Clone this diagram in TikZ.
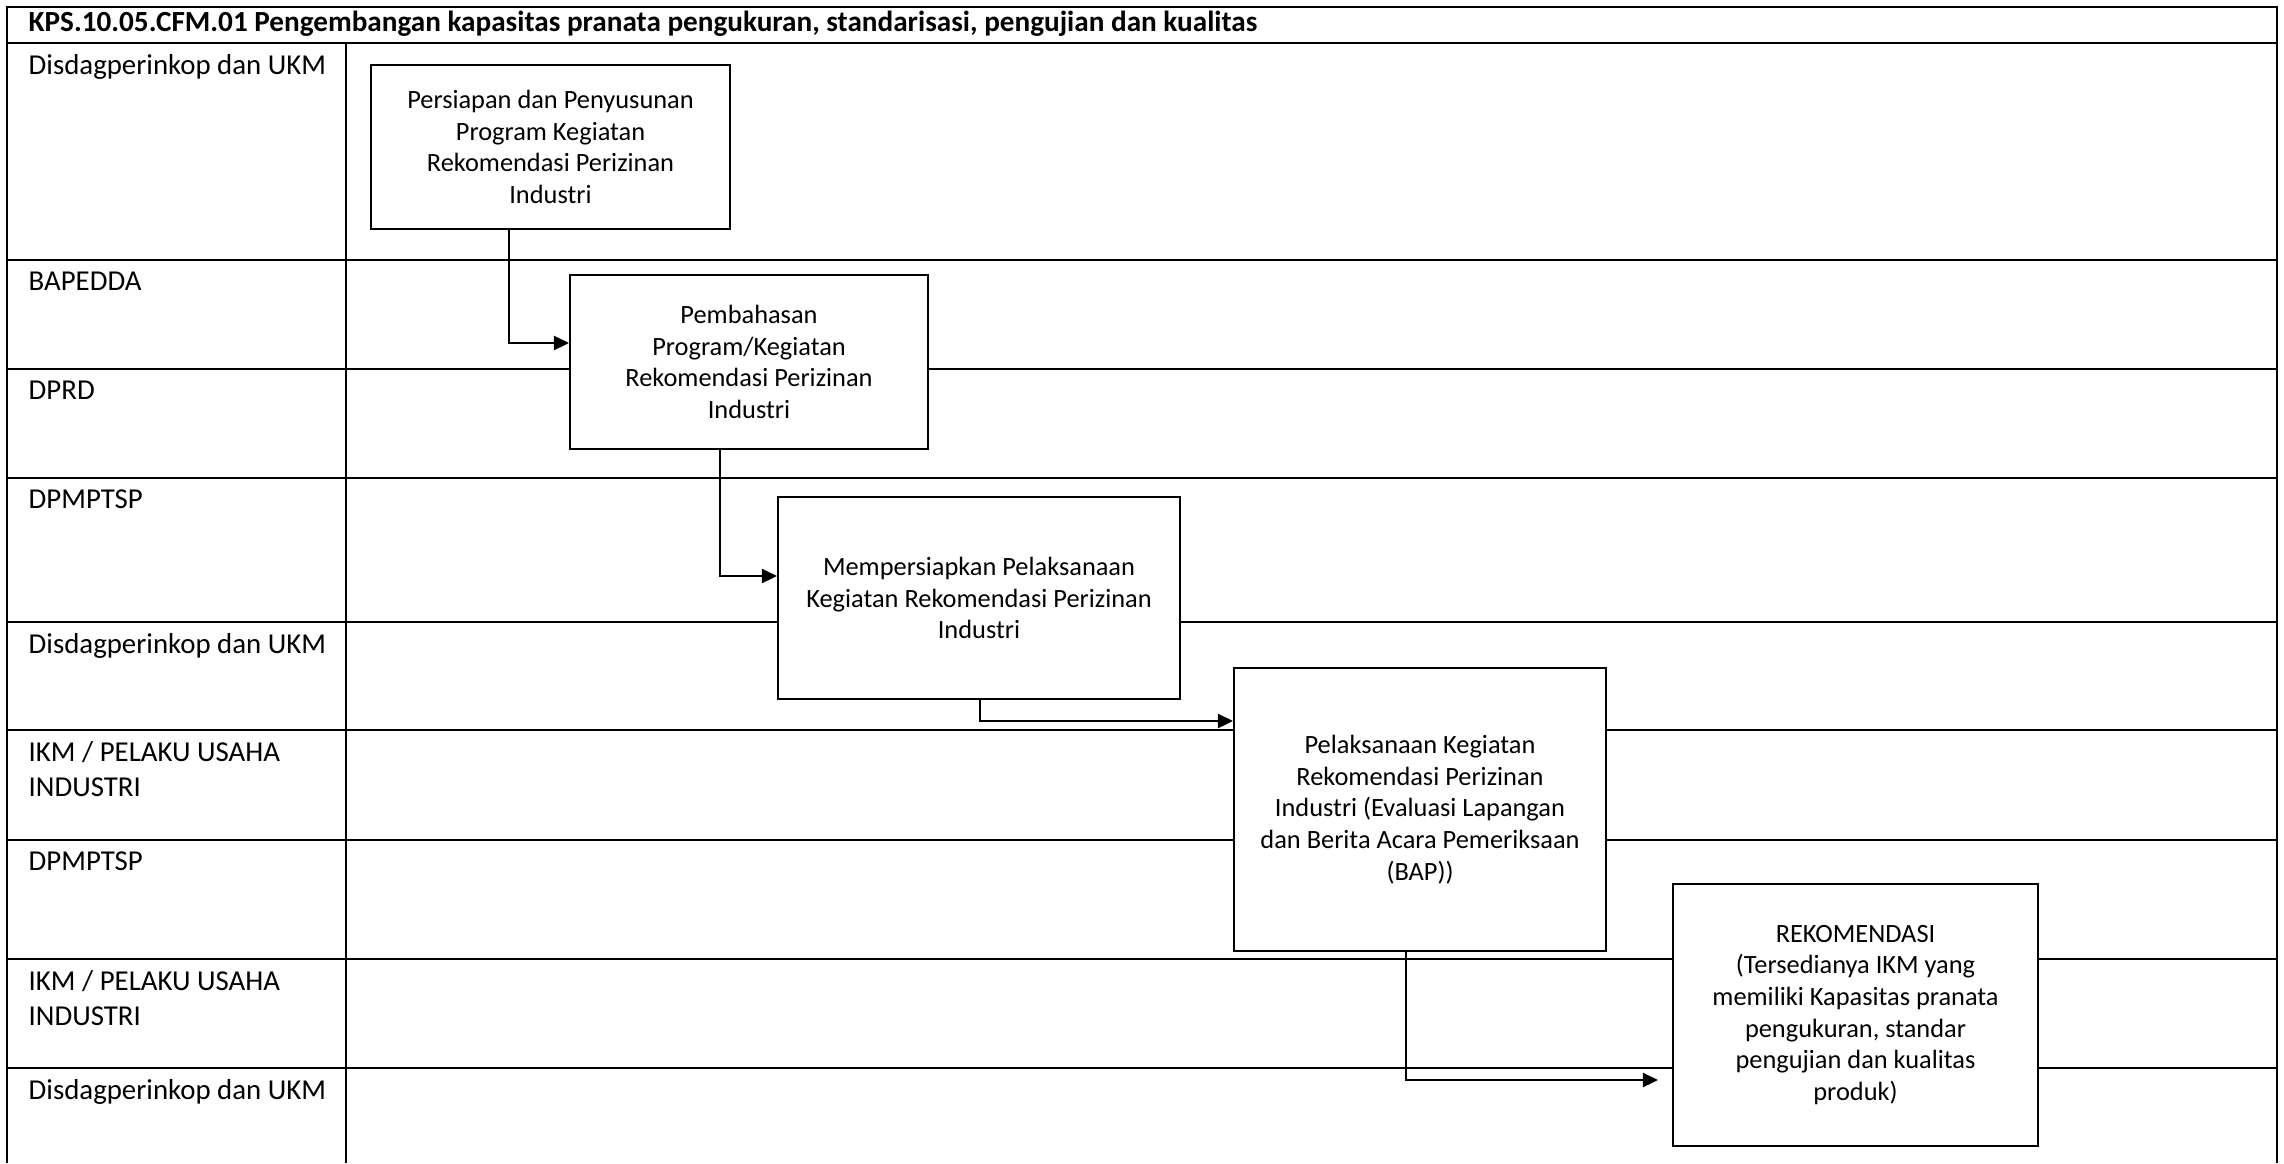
\documentclass[tikz,border=0pt]{standalone}
\usepackage{fontspec}
\setmainfont{Carlito}
\usetikzlibrary{arrows.meta,calc}
\begin{document}
\begin{tikzpicture}[x=0.01cm,y=-0.01cm,
  laneline/.style={line width=0.7pt},
  lanelabel/.style={anchor=north west,inner sep=0pt,align=left,font=\fontsize{8.2}{10}\selectfont},
  titlelabel/.style={anchor=base west,inner sep=0pt,font=\fontsize{8.3}{10}\selectfont\bfseries},
  stepbox/.style={draw,line width=0.5pt,fill=white,align=center,inner sep=2pt,font=\fontsize{7.5}{9}\selectfont},
  conn/.style={line width=0.65pt,-{Triangle[length=4.3pt,width=4pt]}}]
\useasboundingbox (0,0) rectangle (2284,1163);
% frame and lanes
\draw[laneline] (7,1163) -- (7,7) -- (2277,7) -- (2277,1163);
\draw[laneline] (7,43) -- (2277,43);
\draw[laneline] (346,43) -- (346,1163);
\foreach \yy in {260,369,478,622,730,840,959,1068}{
  \draw[laneline] (7,\yy) -- (2277,\yy);
}
% title
\node[titlelabel] (title) at (28,31) {KPS.10.05.CFM.01 Pengembangan kapasitas pranata pengukuran, standarisasi, pengujian dan kualitas};
% lane labels
\node[lanelabel] (l1) at (28,54) {Disdagperinkop dan UKM};
\node[lanelabel] (l2) at (28,271) {BAPEDDA};
\node[lanelabel] (l3) at (28,380) {DPRD};
\node[lanelabel] (l4) at (28,489) {DPMPTSP};
\node[lanelabel] (l5) at (28,633) {Disdagperinkop dan UKM};
\node[lanelabel] (l6) at (28,741) {IKM / PELAKU USAHA\\INDUSTRI};
\node[lanelabel] (l7) at (28,851) {DPMPTSP};
\node[lanelabel] (l8) at (28,970) {IKM / PELAKU USAHA\\INDUSTRI};
\node[lanelabel] (l9) at (28,1079) {Disdagperinkop dan UKM};
% boxes
\node[stepbox,minimum width=3.59cm,minimum height=1.64cm] (b1) at (550.5,147)
  {Persiapan dan Penyusunan\\Program Kegiatan\\Rekomendasi Perizinan\\Industri};
\node[stepbox,minimum width=3.58cm,minimum height=1.74cm] (b2) at (749,362)
  {Pembahasan\\Program/Kegiatan\\Rekomendasi Perizinan\\Industri};
\node[stepbox,minimum width=4.02cm,minimum height=2.02cm] (b3) at (979,598)
  {Mempersiapkan Pelaksanaan\\Kegiatan Rekomendasi Perizinan\\Industri};
\node[stepbox,minimum width=3.72cm,minimum height=2.83cm] (b4) at (1420,809.5)
  {Pelaksanaan Kegiatan\\Rekomendasi Perizinan\\Industri (Evaluasi Lapangan\\dan Berita Acara Pemeriksaan\\(BAP))};
\node[stepbox,minimum width=3.65cm,minimum height=2.62cm] (b5) at (1855.5,1015)
  {REKOMENDASI\\(Tersedianya IKM yang\\memiliki Kapasitas pranata\\pengukuran, standar\\pengujian dan kualitas\\produk)};
% connectors
\coordinate (k1) at (509,343);
\coordinate (k2) at (720,576);
\coordinate (k3) at (980,721);
\coordinate (k4) at (1406,1080);
\draw[conn] (b1.south -| k1) |- (b2.west |- k1);
\draw[conn] (b2.south -| k2) |- (b3.west |- k2);
\draw[conn] (b3.south -| k3) |- (b4.west |- k3);
\draw[conn,shorten >=0.14cm] (b4.south -| k4) |- (b5.west |- k4);
\end{tikzpicture}
\end{document}
